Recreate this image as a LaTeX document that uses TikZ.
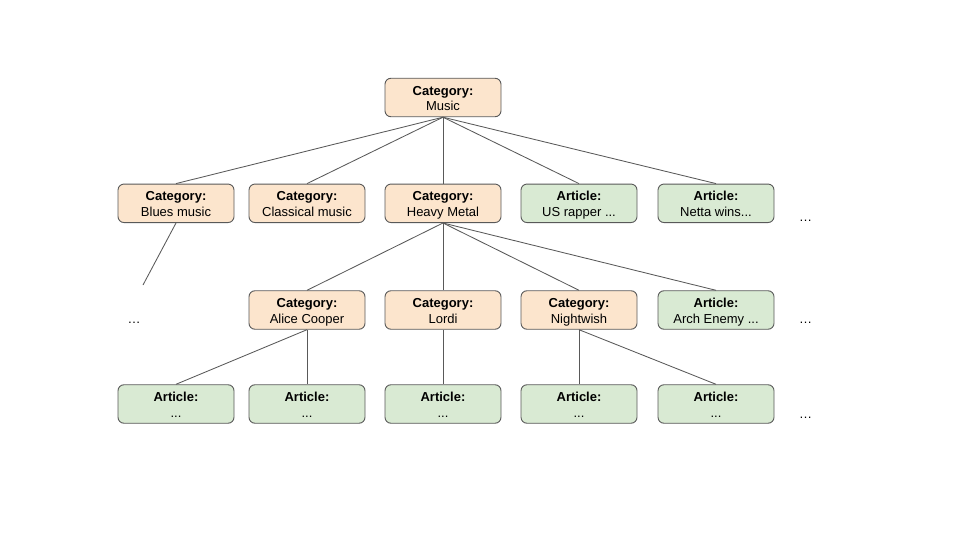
\documentclass[tikz,border=0pt]{standalone}
\usepackage{fontspec}
\setmainfont{Liberation Sans}
\definecolor{catfill}{HTML}{FCE5CD}
\definecolor{artfill}{HTML}{D9EAD3}
\definecolor{edge}{HTML}{595959}
\newcommand{\firststrut}{\rule[-4.5pt]{0pt}{19.8pt}}
\newcommand{\secondstrut}{\rule[-4.5pt]{0pt}{11pt}}
\newcommand{\twoline}[2]{\textbf{#1}\firststrut\\#2\secondstrut}
\tikzset{
  box/.style={draw=edge, line width=0.9pt, rounded corners=6pt, minimum width=116pt, minimum height=38.5pt, inner sep=0pt, align=center, font=\fontsize{13}{15.7}\selectfont},
  cat/.style={box, fill=catfill},
  art/.style={box, fill=artfill},
  link/.style={draw=edge, line width=0.85pt},
  more/.style={anchor=base, inner sep=0pt, font=\fontsize{13}{15}\selectfont}
}
\begin{document}
\begin{tikzpicture}[x=1pt,y=-1pt]
\useasboundingbox (0,0) rectangle (960,540);
\node[cat] (music) at (443,97.5) {\twoline{Category:}{Music}};
\node[cat] (blues) at (176,203.3) {\twoline{Category:}{Blues music}};
\node[cat] (classical) at (307,203.3) {\twoline{Category:}{Classical music}};
\node[cat] (metal) at (443,203.3) {\twoline{Category:}{Heavy Metal}};
\node[art] (rapper) at (579,203.3) {\twoline{Article:}{US rapper ...}};
\node[art] (netta) at (716,203.3) {\twoline{Article:}{Netta wins...}};
\node[more] (more1) at (805.5,221) {…};
\node[more] (more2l) at (134,323.5) {…};
\node[cat] (alice) at (307,310) {\twoline{Category:}{Alice Cooper}};
\node[cat] (lordi) at (443,310) {\twoline{Category:}{Lordi}};
\node[cat] (nightwish) at (579,310) {\twoline{Category:}{Nightwish}};
\node[art] (arch) at (716,310) {\twoline{Article:}{Arch Enemy ...}};
\node[more] (more2) at (805.5,323.5) {…};
\node[art] (a1) at (176,404) {\twoline{Article:}{...}};
\node[art] (a2) at (307,404) {\twoline{Article:}{...}};
\node[art] (a3) at (443,404) {\twoline{Article:}{...}};
\node[art] (a4) at (579,404) {\twoline{Article:}{...}};
\node[art] (a5) at (716,404) {\twoline{Article:}{...}};
\node[more] (more3) at (805.5,418) {…};
\coordinate (bluesend) at (143,285);
\foreach \c in {blues,classical,metal,rapper,netta}
  \draw[link] (music.south) -- (\c.north);
\draw[link] (blues.south) -- (bluesend);
\foreach \c in {alice,lordi,nightwish,arch}
  \draw[link] (metal.south) -- (\c.north);
\draw[link] (alice.south) -- (a1.north);
\draw[link] (alice.south) -- (a2.north);
\draw[link] (lordi.south) -- (a3.north);
\draw[link] (nightwish.south) -- (a4.north);
\draw[link] (nightwish.south) -- (a5.north);
\end{tikzpicture}
\end{document}
